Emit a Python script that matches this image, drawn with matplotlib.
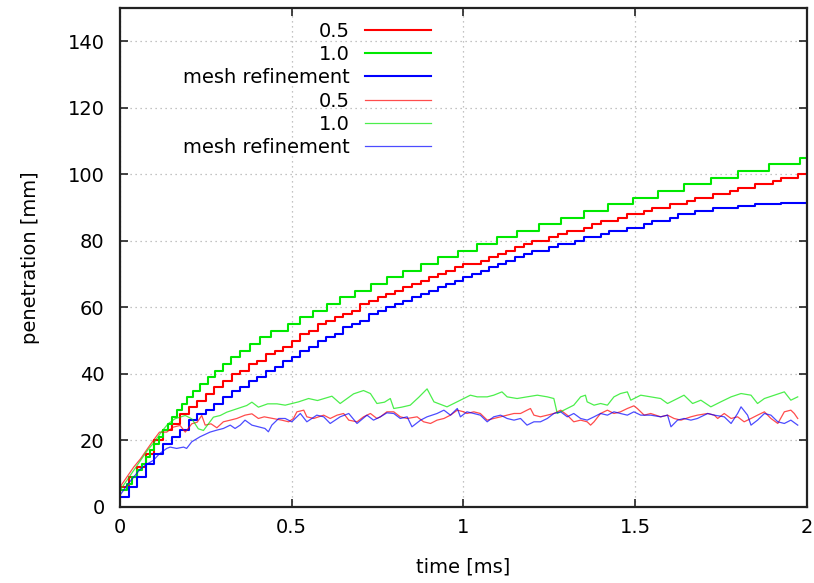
import numpy as np
import matplotlib
matplotlib.use('Agg')
import matplotlib.pyplot as plt

plt.rcParams['font.family'] = ['DejaVu Sans']
plt.rcParams['font.size'] = 14

# thick curves (staircase)
green_step_t = [0.0, 0.02, 0.036, 0.05, 0.064, 0.076, 0.088, 0.1, 0.113, 0.126,
                0.139, 0.152, 0.166, 0.18, 0.195, 0.214, 0.234, 0.255, 0.277, 0.3,
                0.324, 0.35, 0.378, 0.408, 0.44, 0.49, 0.525, 0.563, 0.603, 0.641,
                0.685, 0.731, 0.778, 0.825, 0.875, 0.927, 0.985, 1.04, 1.099, 1.157,
                1.219, 1.283, 1.35, 1.42, 1.493, 1.566, 1.641, 1.72, 1.80, 1.889,
                1.98, 2.0]
green_step_y = [5, 7, 9, 11, 13, 15, 17, 19, 21, 23,
                25, 27, 29, 31, 33, 35, 37, 39, 41, 43,
                45, 47, 49, 51, 53, 55, 57, 59, 61, 63,
                65, 67, 69, 71, 73, 75, 77, 79, 81, 83,
                85, 87, 89, 91, 93, 95, 97, 99, 101, 103,
                105, 105]

t_grid = np.linspace(0, 2, 81)
red_thick = [6, 9, 12, 16, 20, 23, 25, 28, 30, 32,
             34, 36, 38, 40, 41, 43, 44, 46, 47, 48,
             50, 52, 53, 55, 56, 57, 58, 59, 61, 62,
             63, 64, 65, 66, 67, 68, 69, 70, 71, 72,
             73, 73, 74, 75, 76, 77, 78, 79, 80, 80,
             81, 82, 83, 83, 84, 85, 86, 86, 87, 88,
             88, 89, 90, 90, 91, 91, 92, 93, 93, 94,
             94, 95, 96, 96, 97, 97, 98, 99, 99, 100,
             100]
blue_thick = [3, 6, 9, 13, 16, 19, 21, 23, 26, 28,
              29, 31, 33, 35, 36, 38, 39, 41, 42, 44,
              45, 47, 48, 50, 51, 52, 54, 55, 56, 58,
              59, 60, 61, 62, 63, 64, 65, 66, 67, 68,
              69, 70, 71, 72, 73, 74, 75, 76, 77, 77,
              78, 79, 79, 80, 81, 81, 82, 83, 83, 84,
              84, 85, 86, 86, 87, 88, 88, 89, 89, 90,
              90, 90, 90.5, 90.5, 91, 91, 91, 91.5, 91.5, 91.5,
              91.5]

# thin curves (noisy)
green_thin = [(0.0, 5.0), (0.02, 8.0), (0.04, 11.0), (0.06, 14.0), (0.08, 17.0),
              (0.10, 19.5), (0.12, 22.5), (0.14, 25.0), (0.16, 26.5), (0.175, 27.0),
              (0.19, 27.5), (0.209, 26.5), (0.228, 23.5), (0.243, 23.0), (0.272, 27.0),
              (0.292, 27.5), (0.311, 28.5), (0.340, 29.5), (0.369, 30.5), (0.384, 31.5),
              (0.403, 30.0), (0.43, 31.0), (0.457, 31.0), (0.481, 30.6), (0.52, 31.6),
              (0.549, 32.6), (0.575, 32.0), (0.617, 33.3), (0.641, 31.1), (0.68, 34.0),
              (0.709, 35.0), (0.729, 34.1), (0.748, 31.1), (0.77, 31.5), (0.787, 32.6),
              (0.797, 29.6), (0.82, 30.0), (0.845, 30.6), (0.87, 33.0), (0.894, 35.5),
              (0.914, 31.6), (0.952, 30.1), (0.991, 32.1), (1.020, 33.6), (1.040, 33.1),
              (1.069, 33.1), (1.088, 33.6), (1.112, 34.6), (1.127, 33.1), (1.156, 32.6),
              (1.185, 33.1), (1.215, 33.6), (1.244, 33.1), (1.263, 32.6), (1.273, 28.1),
              (1.292, 29.1), (1.321, 30.6), (1.341, 33.1), (1.355, 33.6), (1.360, 31.6),
              (1.380, 30.6), (1.399, 31.1), (1.419, 30.6), (1.438, 33.1), (1.457, 34.1),
              (1.477, 34.6), (1.487, 32.1), (1.516, 33.6), (1.545, 33.1), (1.574, 32.6),
              (1.594, 31.1), (1.623, 32.6), (1.642, 33.6), (1.667, 31.1), (1.691, 32.1),
              (1.720, 30.1), (1.749, 31.6), (1.779, 33.1), (1.808, 34.1), (1.837, 33.6),
              (1.856, 31.1), (1.876, 32.6), (1.905, 33.6), (1.934, 34.6), (1.953, 32.1),
              (1.973, 33.1)]
red_thin = [(0.0, 6.0), (0.02, 9.0), (0.04, 12.0), (0.06, 14.5), (0.08, 17.5),
            (0.097, 20.0), (0.115, 22.5), (0.136, 22.5), (0.155, 24.0), (0.175, 24.5),
            (0.19, 22.5), (0.209, 25.0), (0.225, 25.5), (0.238, 27.5), (0.248, 24.6),
            (0.265, 25.0), (0.282, 23.8), (0.301, 25.6), (0.321, 26.1), (0.340, 26.6),
            (0.364, 27.6), (0.384, 28.0), (0.403, 26.6), (0.42, 27.1), (0.445, 26.6),
            (0.471, 26.1), (0.491, 25.6), (0.505, 26.6), (0.515, 28.6), (0.535, 29.1),
            (0.544, 27.1), (0.564, 26.6), (0.593, 27.6), (0.612, 26.6), (0.632, 27.6),
            (0.651, 28.1), (0.666, 26.1), (0.690, 25.6), (0.709, 27.1), (0.729, 28.1),
            (0.748, 26.6), (0.758, 27.1), (0.777, 28.6), (0.797, 28.6), (0.816, 27.1),
            (0.836, 26.6), (0.865, 27.1), (0.884, 25.6), (0.904, 25.1), (0.923, 26.1),
            (0.943, 26.6), (0.962, 27.6), (0.982, 29.1), (1.001, 28.6), (1.010, 28.1),
            (1.030, 28.6), (1.049, 28.1), (1.069, 26.1), (1.088, 26.6), (1.108, 27.1),
            (1.127, 27.6), (1.147, 28.1), (1.166, 28.1), (1.185, 29.1), (1.195, 29.6),
            (1.205, 27.6), (1.224, 27.1), (1.244, 27.6), (1.263, 28.1), (1.283, 29.1),
            (1.302, 27.6), (1.321, 25.6), (1.341, 26.1), (1.360, 25.6), (1.370, 24.6),
            (1.380, 25.6), (1.399, 28.1), (1.419, 29.1), (1.438, 28.1), (1.457, 28.6),
            (1.477, 29.6), (1.496, 30.4), (1.506, 29.6), (1.526, 27.6), (1.545, 28.1),
            (1.574, 27.1), (1.594, 27.6), (1.613, 26.6), (1.633, 26.1), (1.662, 27.1),
            (1.681, 27.6), (1.711, 28.1), (1.730, 27.6), (1.740, 26.6), (1.759, 28.1),
            (1.779, 26.6), (1.798, 27.1), (1.817, 25.6), (1.837, 26.6), (1.856, 27.6),
            (1.876, 28.6), (1.895, 26.6), (1.915, 25.1), (1.934, 28.6), (1.953, 29.1),
            (1.963, 28.1), (1.973, 26.6)]
blue_thin = [(0.0, 3.5), (0.02, 6.5), (0.04, 9.0), (0.06, 11.5), (0.08, 13.0),
             (0.097, 14.0), (0.115, 16.0), (0.136, 17.6), (0.146, 18.0), (0.165, 17.6),
             (0.185, 18.0), (0.194, 17.6), (0.209, 19.6), (0.233, 21.1), (0.262, 22.5),
             (0.282, 23.1), (0.301, 23.6), (0.321, 24.6), (0.335, 23.6), (0.35, 24.6),
             (0.364, 26.1), (0.384, 24.6), (0.403, 24.1), (0.422, 23.6), (0.432, 22.6),
             (0.442, 24.6), (0.462, 26.6), (0.481, 26.6), (0.5, 25.6), (0.525, 28.1),
             (0.544, 25.6), (0.573, 27.6), (0.593, 27.1), (0.612, 25.1), (0.641, 27.1),
             (0.666, 28.1), (0.690, 25.1), (0.719, 27.6), (0.738, 26.1), (0.758, 27.1),
             (0.777, 28.3), (0.797, 28.1), (0.816, 26.6), (0.836, 27.1), (0.850, 24.1),
             (0.875, 26.1), (0.894, 27.1), (0.923, 28.1), (0.943, 29.1), (0.962, 27.6),
             (0.982, 29.6), (0.991, 27.1), (1.010, 28.6), (1.030, 28.1), (1.049, 27.6),
             (1.069, 25.6), (1.088, 27.1), (1.108, 27.6), (1.127, 26.6), (1.147, 26.1),
             (1.166, 26.6), (1.185, 24.6), (1.205, 25.6), (1.224, 25.6), (1.244, 26.6),
             (1.263, 28.1), (1.283, 28.6), (1.302, 27.1), (1.321, 28.1), (1.341, 26.6),
             (1.360, 26.1), (1.380, 27.1), (1.399, 28.1), (1.419, 27.6), (1.438, 28.6),
             (1.457, 28.1), (1.477, 27.6), (1.496, 28.6), (1.516, 27.6), (1.545, 27.6),
             (1.574, 27.1), (1.594, 27.6), (1.604, 24.1), (1.623, 26.1), (1.642, 26.6),
             (1.662, 26.1), (1.681, 26.6), (1.711, 28.1), (1.730, 27.6), (1.759, 27.1),
             (1.779, 25.1), (1.798, 28.1), (1.808, 30.1), (1.827, 27.6), (1.837, 24.6),
             (1.856, 26.1), (1.876, 28.1), (1.895, 27.6), (1.915, 25.6), (1.934, 25.1),
             (1.953, 26.1), (1.973, 24.6)]

labels = ['0.5', '1.0', 'mesh refinement']
red, green, blue = '#ff0000', '#00e800', '#0000ff'

fig = plt.figure(figsize=(8.14, 5.83), dpi=100)
ax = fig.add_axes([0.1474, 0.1304, 0.844, 0.856])

ax.plot(t_grid, red_thick, color=red, lw=1.5, drawstyle='steps-post', label=labels[0])
ax.plot(green_step_t, green_step_y, color=green, lw=1.5, drawstyle='steps-post', label=labels[1])
ax.plot(t_grid, blue_thick, color=blue, lw=1.5, drawstyle='steps-post', label=labels[2])

for data, c, lab in [(red_thin, red, labels[0]), (green_thin, green, labels[1]),
                     (blue_thin, blue, labels[2])]:
    tt, yy = zip(*data)
    ax.plot(tt, yy, color=c, lw=0.9, alpha=0.7, label=lab)

ax.set_xlim(0, 2)
ax.set_ylim(0, 150)
ax.set_xticks([0, 0.5, 1, 1.5, 2])
ax.set_xticklabels(['0', '0.5', '1', '1.5', '2'])
ax.set_yticks(np.arange(0, 141, 20))
ax.tick_params(direction='in', length=6, width=1.2, top=True, right=True, colors='#222222')
ax.tick_params(axis='x', pad=8, labelcolor='black')
ax.tick_params(axis='y', pad=11, labelcolor='black')
ax.grid(True, color='#b0b0b0', linestyle=(0, (1, 3)), linewidth=0.9)
for s in ax.spines.values():
    s.set_linewidth(1.6)
    s.set_color('#222222')

ax.set_xlabel('time [ms]')
ax.set_ylabel('penetration [mm]')
ax.xaxis.set_label_coords(0.5, -0.102)
ax.yaxis.set_label_coords(-0.117, 0.5)

leg = ax.legend(loc='upper right', bbox_to_anchor=(0.452, 0.972), frameon=False,
                markerfirst=False, handlelength=3.35, handletextpad=0.82,
                labelspacing=0.216, borderpad=0, borderaxespad=0)
leg._legend_handle_box.get_children()[0].align = 'right'

fig.savefig('out.png', dpi=100)
